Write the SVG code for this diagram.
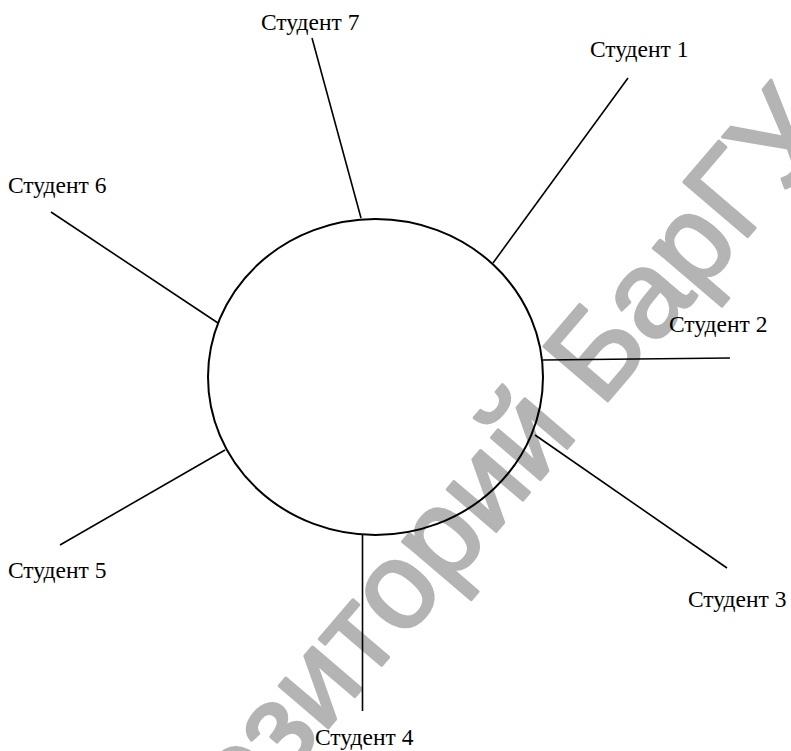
<svg xmlns="http://www.w3.org/2000/svg" width="791" height="751" viewBox="0 0 791 751">
<style>
.lbl{font-family:"Liberation Serif","Times New Roman",serif;font-size:23.5px;fill:#000}
.ln{stroke:#000;stroke-width:1.6;fill:none}
.wm{font-family:"Liberation Sans",Arial,sans-serif;font-size:122px;fill:#b4b4b4;stroke:#b4b4b4;stroke-width:3;stroke-linejoin:round}
</style>
<rect width="791" height="751" fill="#fff"/>
<text class="wm" transform="translate(107,987) rotate(-49.5)">Репозиторий БарГУ</text>
<g id="connectors">
<line class="ln" x1="312" y1="38" x2="361" y2="218"/>
<line class="ln" x1="628" y1="78" x2="493" y2="263"/>
<line class="ln" x1="543" y1="360" x2="730" y2="358"/>
<line class="ln" x1="535" y1="435" x2="727" y2="568"/>
<line class="ln" x1="362.5" y1="535" x2="362.5" y2="711"/>
<line class="ln" x1="225" y1="450" x2="60" y2="545"/>
<line class="ln" x1="51" y1="212" x2="218" y2="323"/>
</g>
<g id="center">
<ellipse cx="375.5" cy="377" rx="167.5" ry="158" fill="none" stroke="#000" stroke-width="2"/>
</g>
<g id="s7"><text class="lbl" x="261" y="30">Студент 7</text></g>
<g id="s1"><text class="lbl" x="590" y="57">Студент 1</text></g>
<g id="s2"><text class="lbl" x="669" y="332">Студент 2</text></g>
<g id="s3"><text class="lbl" x="688" y="607">Студент 3</text></g>
<g id="s4"><text class="lbl" x="315" y="745">Студент 4</text></g>
<g id="s5"><text class="lbl" x="8" y="578">Студент 5</text></g>
<g id="s6"><text class="lbl" x="8" y="193">Студент 6</text></g>
</svg>
